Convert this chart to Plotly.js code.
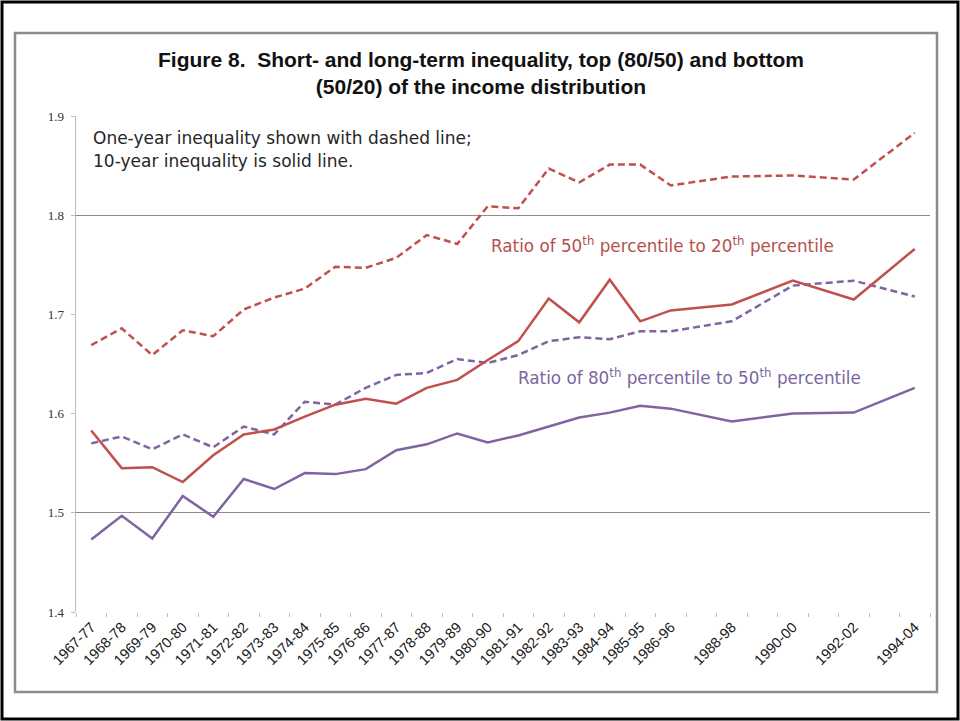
<!DOCTYPE html>
<html>
<head>
<meta charset="utf-8">
<script src="https://cdn.plot.ly/plotly-3.0.1.min.js"></script>
<style>
  html, body { margin: 0; padding: 0; background: #fff; }
  #chart { width: 960px; height: 721px; }
</style>
</head>
<body>
<div id="chart"></div>
<script>
// ---- Data ----
const categories = ['1967-77','1968-78','1969-79','1970-80','1971-81','1972-82','1973-83','1974-84',
  '1975-85','1976-86','1977-87','1978-88','1979-89','1980-90','1981-91','1982-92','1983-93',
  '1984-94','1985-95','1986-96','1987-97','1988-98','1989-99','1990-00','1991-01','1992-02',
  '1993-03','1994-04'];
const tickLabels = ['1967-77','1968-78','1969-79','1970-80','1971-81','1972-82','1973-83','1974-84',
  '1975-85','1976-86','1977-87','1978-88','1979-89','1980-90','1981-91','1982-92','1983-93',
  '1984-94','1985-95','1986-96',' ','1988-98',' ','1990-00',' ','1992-02',' ','1994-04'];

// 50/20 ratio, one-year (dashed)
const ratio5020OneYear = [1.669,1.686,1.659,1.684,1.678,1.705,1.717,1.726,1.748,1.747,1.757,1.780,
  1.771,1.809,1.807,1.847,1.833,1.851,1.851,1.830,null,1.839,null,1.840,null,1.836,null,1.883];
// 50/20 ratio, ten-year (solid)
const ratio5020TenYear = [1.583,1.545,1.546,1.531,1.558,1.579,1.584,1.597,1.609,1.615,1.610,1.626,
  1.634,1.654,1.673,1.716,1.692,1.735,1.693,1.704,null,1.710,null,1.734,null,1.715,null,1.766];
// 80/50 ratio, one-year (dashed)
const ratio8050OneYear = [1.570,1.577,1.564,1.579,1.566,1.587,1.579,1.612,1.609,1.626,1.639,1.641,
  1.655,1.651,1.659,1.673,1.677,1.675,1.683,1.683,null,1.693,null,1.729,null,1.734,null,1.718];
// 80/50 ratio, ten-year (solid)
const ratio8050TenYear = [1.473,1.497,1.474,1.517,1.496,1.534,1.524,1.540,1.539,1.544,1.563,1.569,
  1.580,1.571,1.578,1.587,1.596,1.601,1.608,1.605,null,1.592,null,1.600,null,1.601,null,1.626];

const yTicks = [1.4, 1.5, 1.6, 1.7, 1.8, 1.9];
const yGrid = [1.5, 1.8];

// ---- Styles ----
const RED = '#C0504D';
const PURPLE = '#8064A2';
const DASH = '7px,4px';

function line(y, color, dash, name) {
  return {
    type: 'scatter', mode: 'lines', x: categories, y: y, name: name,
    connectgaps: true,
    line: { color: color, width: 2.5, dash: dash },
    hoverinfo: 'skip'
  };
}

const traces = [
  line(ratio8050TenYear, PURPLE, 'solid', '80/50 10-year'),
  line(ratio8050OneYear, PURPLE, DASH, '80/50 1-year'),
  line(ratio5020TenYear, RED, 'solid', '50/20 10-year'),
  line(ratio5020OneYear, RED, DASH, '50/20 1-year'),
  { type: 'scatter', mode: 'none', x: [categories[0]], y: [1.4], yaxis: 'y2', showlegend: false, hoverinfo: 'skip' }
];

// pixel -> paper helpers (plot area 76..930 x 116..612)
const L = 76, R = 930, T = 116, B = 612;
const px = v => (v - L) / (R - L);
const py = v => (B - v) / (B - T);

const layout = {
  width: 960, height: 721, autosize: false,
  margin: { l: L, r: 960 - R, t: T, b: 721 - B, pad: 0 },
  paper_bgcolor: '#ffffff', plot_bgcolor: '#ffffff',
  showlegend: false,
  title: {
    text: '<b>Figure 8.  Short- and long-term inequality, top (80/50) and bottom<br>(50/20) of the income distribution</b>',
    font: { family: 'Liberation Sans, Arial, sans-serif', size: 21, color: '#111' },
    x: 0.501, xref: 'container', xanchor: 'center',
    y: 1 - 67 / 721, yref: 'container', yanchor: 'top'
  },
  xaxis: {
    type: 'category', categoryorder: 'array', categoryarray: categories,
    range: [-0.5, categories.length - 0.5],
    tickmode: 'array', tickvals: categories, ticktext: tickLabels,
    tickson: 'boundaries',
    ticks: 'outside', ticklen: 4, tickcolor: '#bdbdbd', tickwidth: 1,
    tickangle: -45,
    ticklabelstandoff: 3,
    tickfont: { family: 'Liberation Sans, Arial, sans-serif', size: 14.5, color: '#1a1a1a' },
    showline: false, showgrid: false, zeroline: false, fixedrange: true
  },
  yaxis: {
    range: [1.4, 1.9],
    tickmode: 'array', tickvals: yTicks, ticktext: yTicks.map(v => v.toFixed(1)),
    ticks: 'outside', ticklen: 4, tickcolor: '#bdbdbd',
    showline: true, linecolor: '#bdbdbd', linewidth: 1.5,
    showgrid: false, zeroline: false,
    tickfont: { family: 'Liberation Serif, Times New Roman, serif', size: 13, color: '#333' },
    ticklabelstandoff: 4,
    fixedrange: true
  },
  yaxis2: {
    overlaying: 'y', range: [1.4, 1.9],
    tickmode: 'array', tickvals: yGrid, showticklabels: false,
    showgrid: true, gridcolor: '#8c8c8c', gridwidth: 1.3,
    ticks: '', showline: false, zeroline: false, fixedrange: true
  },
  annotations: [
    { xref: 'paper', yref: 'paper', x: px(91), y: py(138), xanchor: 'left', yanchor: 'middle',
      text: 'One-year inequality shown with dashed line;', showarrow: false,
      font: { family: 'DejaVu Sans, sans-serif', size: 17, color: '#262626' } },
    { xref: 'paper', yref: 'paper', x: px(91), y: py(161), xanchor: 'left', yanchor: 'middle',
      text: '10-year inequality is solid line.', showarrow: false,
      font: { family: 'DejaVu Sans, sans-serif', size: 17, color: '#262626' } },
    { xref: 'paper', yref: 'paper', x: px(489), y: py(245), xanchor: 'left', yanchor: 'middle',
      text: 'Ratio of 50<sup>th</sup> percentile to 20<sup>th</sup> percentile', showarrow: false,
      font: { family: 'DejaVu Sans, sans-serif', size: 16.8, color: '#B5504D' } },
    { xref: 'paper', yref: 'paper', x: px(516), y: py(377), xanchor: 'left', yanchor: 'middle',
      text: 'Ratio of 80<sup>th</sup> percentile to 50<sup>th</sup> percentile', showarrow: false,
      font: { family: 'DejaVu Sans, sans-serif', size: 16.8, color: '#7B66A0' } }
  ],
  shapes: [
    { type: 'rect', xref: 'paper', yref: 'paper', layer: 'below',
      x0: px(2), x1: px(958), y0: py(719), y1: py(2),
      line: { color: '#000', width: 3 }, fillcolor: 'rgba(0,0,0,0)' },
    { type: 'rect', xref: 'paper', yref: 'paper', layer: 'below',
      x0: px(15), x1: px(937), y0: py(692), y1: py(33),
      line: { color: '#8c8c8c', width: 2.5 }, fillcolor: 'rgba(0,0,0,0)' }
  ]
};

Plotly.newPlot('chart', traces, layout, { displayModeBar: false, staticPlot: true });
</script>
</body>
</html>
